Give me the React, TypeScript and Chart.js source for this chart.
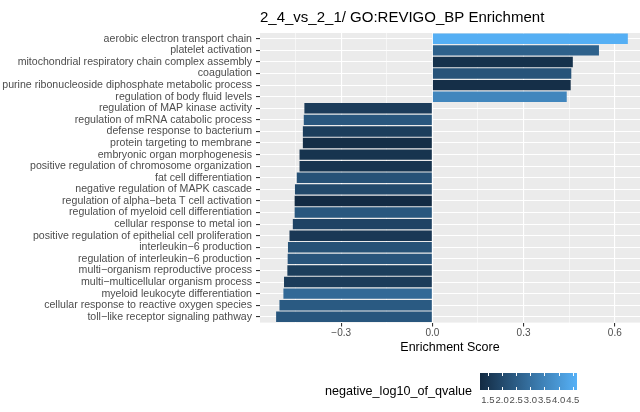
import { useEffect, useRef } from "react";
import { Chart, registerables } from "chart.js";

Chart.register(...registerables);

const titleText = "2_4_vs_2_1/ GO:REVIGO_BP Enrichment";
const xAxisTitle = "Enrichment Score";
const legendTitle = "negative_log10_of_qvalue";

const categories = [
  "aerobic electron transport chain",
  "platelet activation",
  "mitochondrial respiratory chain complex assembly",
  "coagulation",
  "purine ribonucleoside diphosphate metabolic process",
  "regulation of body fluid levels",
  "regulation of MAP kinase activity",
  "regulation of mRNA catabolic process",
  "defense response to bacterium",
  "protein targeting to membrane",
  "embryonic organ morphogenesis",
  "positive regulation of chromosome organization",
  "fat cell differentiation",
  "negative regulation of MAPK cascade",
  "regulation of alpha\u2212beta T cell activation",
  "regulation of myeloid cell differentiation",
  "cellular response to metal ion",
  "positive regulation of epithelial cell proliferation",
  "interleukin\u22126 production",
  "regulation of interleukin\u22126 production",
  "multi\u2212organism reproductive process",
  "multi\u2212multicellular organism process",
  "myeloid leukocyte differentiation",
  "cellular response to reactive oxygen species",
  "toll\u2212like receptor signaling pathway",
];

const enrichmentScores = [
  0.643, 0.548, 0.462, 0.457, 0.455, 0.442,
  -0.421, -0.423, -0.426, -0.426, -0.437, -0.437, -0.446, -0.452, -0.453,
  -0.453, -0.459, -0.47, -0.475, -0.476, -0.477, -0.488, -0.49, -0.503, -0.514,
];

const negLog10Q = [
  4.6, 2.6, 1.39, 2.25, 1.32, 3.55,
  1.66, 2.35, 1.7, 1.29, 1.45, 1.45, 2.22, 1.98, 1.23,
  2.35, 1.84, 1.56, 2.22, 2.28, 1.7, 1.66, 2.8, 2.42, 2.32,
];

const xMajorTicks = [-0.3, 0, 0.3, 0.6];
const xMinorTicks = [-0.45, -0.15, 0.15, 0.45];
const xMin = -0.567;
const xMax = 0.683;

const legendTicks = [1.5, 2.0, 2.5, 3.0, 3.5, 4.0, 4.5];
const legendMin = 1.22;
const legendMax = 4.65;

const lowColor = [19, 43, 67];
const highColor = [86, 177, 247];

function colorFor(v: number): string {
  const t = Math.max(0, Math.min(1, (v - legendMin) / (legendMax - legendMin)));
  const c = lowColor.map((l, i) => Math.round(l + (highColor[i] - l) * t));
  return `rgb(${c[0]},${c[1]},${c[2]})`;
}

function fmtTick(v: number): string {
  const s = Math.abs(v).toFixed(1);
  return v < -1e-9 ? "\u2212" + s : s;
}

const FONT = '"Liberation Sans", Arial, sans-serif';

const decorPlugin = {
  id: "decor",
  beforeDraw(chart: any) {
    const { ctx, chartArea: a } = chart;
    ctx.save();
    ctx.fillStyle = "#FFFFFF";
    ctx.fillRect(0, 0, chart.width, chart.height);
    ctx.fillStyle = "#EBEBEB";
    ctx.fillRect(a.left, a.top, a.right - a.left, a.bottom - a.top);
    ctx.restore();
  },
  afterDraw(chart: any) {
    const { ctx } = chart;
    ctx.save();
    // title
    ctx.fillStyle = "#000000";
    ctx.font = `15px ${FONT}`;
    ctx.textAlign = "left";
    ctx.textBaseline = "middle";
    ctx.fillText(titleText, 260, 18);

    // legend
    const bx0 = 480, bx1 = 577, by0 = 373, by1 = 390;
    ctx.font = `12.6px ${FONT}`;
    ctx.fillStyle = "#000000";
    ctx.textAlign = "left";
    ctx.fillText(legendTitle, 325, 392);

    const grad = ctx.createLinearGradient(bx0, 0, bx1, 0);
    grad.addColorStop(0, colorFor(legendMin));
    grad.addColorStop(1, colorFor(legendMax));
    ctx.fillStyle = grad;
    ctx.fillRect(bx0, by0, bx1 - bx0, by1 - by0);

    ctx.strokeStyle = "#FFFFFF";
    ctx.lineWidth = 1;
    ctx.fillStyle = "#4D4D4D";
    ctx.font = `9.5px ${FONT}`;
    ctx.textAlign = "center";
    for (const v of legendTicks) {
      const x = bx0 + ((v - legendMin) / (legendMax - legendMin)) * (bx1 - bx0);
      const xr = Math.round(x) + 0.5;
      ctx.beginPath();
      ctx.moveTo(xr, by0);
      ctx.lineTo(xr, by0 + 3);
      ctx.moveTo(xr, by1 - 3);
      ctx.lineTo(xr, by1);
      ctx.stroke();
      ctx.fillText(v.toFixed(1), x, 400);
    }
    ctx.restore();
  },
};

export default function App() {
  const canvasRef = useRef<HTMLCanvasElement | null>(null);

  useEffect(() => {
    const canvas = canvasRef.current;
    if (!canvas) return;
    const allTicks = [...xMajorTicks, ...xMinorTicks].sort((a, b) => a - b);
    const isMajor = (v: number) => xMajorTicks.some((m) => Math.abs(m - v) < 1e-6);

    const chart = new Chart(canvas, {
      type: "bar",
      data: {
        labels: categories,
        datasets: [
          {
            data: enrichmentScores,
            backgroundColor: negLog10Q.map(colorFor),
            borderWidth: 0,
            barPercentage: 0.9,
            categoryPercentage: 1.0,
          },
        ],
      },
      options: {
        indexAxis: "y",
        responsive: false,
        animation: false,
        devicePixelRatio: 1,
        layout: { padding: { top: 33, right: 0, bottom: 57, left: 0 } },
        plugins: {
          legend: { display: false },
          title: { display: false },
          tooltip: { enabled: false },
        },
        scales: {
          x: {
            type: "linear",
            min: xMin,
            max: xMax,
            afterBuildTicks: (scale: any) => {
              scale.ticks = allTicks.map((v) => ({ value: v }));
            },
            afterFit: (scale: any) => {
              scale.height = 32.4;
            },
            ticks: {
              autoSkip: false,
              maxRotation: 0,
              padding: 1,
              color: "#4D4D4D",
              font: { family: FONT, size: 10 },
              callback: (v: any) => (isMajor(Number(v)) ? fmtTick(Number(v)) : ""),
            },
            grid: {
              color: "#FFFFFF",
              lineWidth: (ctx: any) => (ctx.tick && isMajor(ctx.tick.value) ? 1.1 : 0.55),
              tickColor: (ctx: any) =>
                ctx.tick && isMajor(ctx.tick.value) ? "#333333" : "rgba(0,0,0,0)",
              tickLength: 4,
              drawTicks: true,
            },
            border: { display: false },
            title: {
              display: true,
              text: xAxisTitle,
              color: "#000000",
              font: { family: FONT, size: 12.5 },
              padding: { top: 0, bottom: 0 },
            },
          },
          y: {
            type: "category",
            offset: true,
            afterFit: (scale: any) => {
              scale.width = 260;
            },
            ticks: {
              autoSkip: false,
              padding: 4,
              color: "#4D4D4D",
              font: { family: FONT, size: 10.6 },
            },
            grid: {
              offset: false,
              color: "#FFFFFF",
              lineWidth: 1.1,
              tickColor: "#333333",
              tickLength: 4,
              drawTicks: true,
            },
            border: { display: false },
          },
        },
      },
      plugins: [decorPlugin],
    });
    return () => chart.destroy();
  }, []);

  return (
    <div style={{ position: "fixed", left: 0, top: 0, width: 640, height: 412, background: "#fff" }}>
      <canvas ref={canvasRef} width={640} height={412} style={{ width: 640, height: 412, display: "block" }} />
    </div>
  );
}
